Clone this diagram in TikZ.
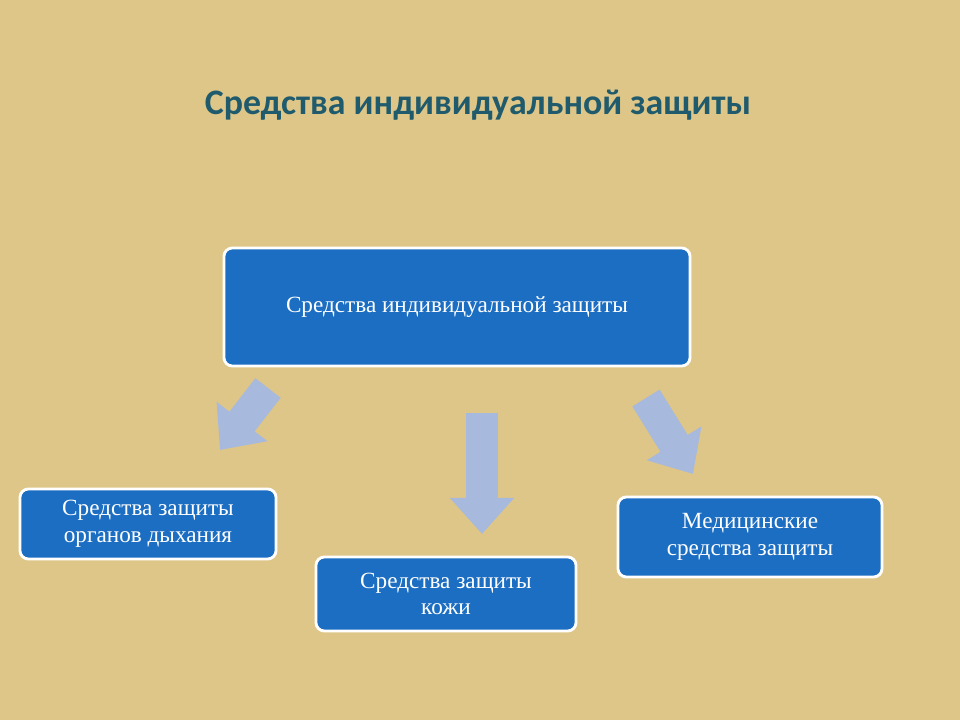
\documentclass[tikz,border=0pt]{standalone}
\usepackage{fontspec}
\setmainfont{Liberation Serif}
\newfontfamily\titlefont{Carlito}
\usetikzlibrary{positioning,arrows.meta}
\definecolor{paper}{HTML}{DEC688}
\definecolor{boxblue}{HTML}{1C6EC3}
\definecolor{arrowblue}{HTML}{A7B9DC}
\definecolor{titleteal}{HTML}{1F5B6C}
\tikzset{
  sizbox/.style={draw=white, line width=2pt, fill=boxblue, rounded corners=6pt, text=white, align=center, font=\fontsize{16.5}{19}\selectfont},
  fatarrow/.style={draw=arrowblue, line width=0.8cm, -{Triangle[width=1.55cm,length=0.9cm]}}
}
\begin{document}
\begin{tikzpicture}[x=0.025cm,y=-0.025cm]
				\fill[paper] (0,0) rectangle (960,720);
				\useasboundingbox (0,0) rectangle (960,720);
				\node[text=titleteal, font=\titlefont\bfseries\fontsize{25.5}{30}\selectfont] (title) at (478,105) {Средства индивидуальной защиты};
				\node[sizbox, minimum width=11.65cm, minimum height=2.95cm] (top) at (457,307) {Средства индивидуальной защиты};
				\node[sizbox, minimum width=6.4cm, minimum height=1.75cm] (resp) at (148,524) {Средства защиты\\органов дыхания};
				\node[sizbox, minimum width=6.5cm, minimum height=1.85cm] (skin) at (446,594) {Средства защиты\\кожи};
				\node[sizbox, minimum width=6.6cm, minimum height=2cm] (med) at (750,537) {Медицинские\\средства защиты};
				\coordinate (l1) at (268,388); \coordinate (l2) at (220,450);
				\coordinate (m1) at (482,413); \coordinate (m2) at (482,534);
				\coordinate (r1) at (646,398); \coordinate (r2) at (693,474);
				\draw[fatarrow] (l1) -- (l2);
				\draw[fatarrow] (m1) -- (m2);
				\draw[fatarrow] (r1) -- (r2);
\end{tikzpicture}
\end{document}
